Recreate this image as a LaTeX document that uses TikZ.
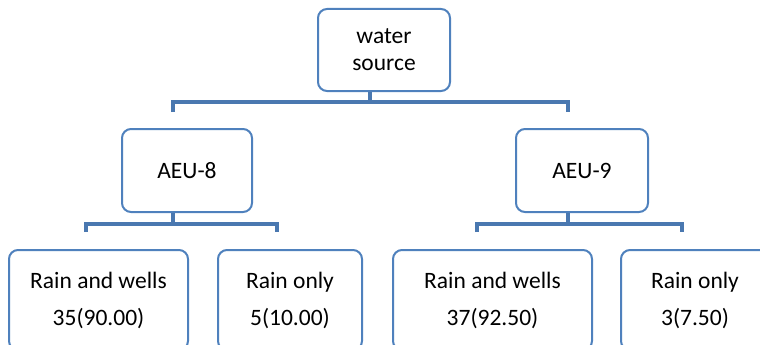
\documentclass[tikz,border=0pt]{standalone}
\usepackage{fontspec}
\setmainfont{Carlito}
\usepackage{tikz}
\usetikzlibrary{positioning,calc}
\usepackage{xcolor}
\definecolor{SrcBlue}{HTML}{4F81BD}
\definecolor{BusBlue}{HTML}{4A78B0}

\begin{document}
\begin{tikzpicture}[x=1pt,y=-1pt,
    every node/.style={font=\fontsize{23.5}{27}\selectfont,align=center},
    unitbox/.style={draw=SrcBlue,line width=2pt,rounded corners=9pt,fill=white,inner sep=0pt},
    leafbox/.style={unitbox,minimum height=100pt,font=\fontsize{23.5}{37}\selectfont},
    bus/.style={draw=BusBlue,line width=4.8pt}]
    \clip (0,0) rectangle (760,345);
    \node[unitbox,minimum width=132pt,minimum height=82pt] (ws) at (384,50) {water\\source};
    \node[unitbox,minimum width=130pt,minimum height=83pt] (a8) at (187,170.5) {AEU-8};
    \node[unitbox,minimum width=132pt,minimum height=83pt] (a9) at (582,170.5) {AEU-9};
    \node[leafbox,minimum width=179pt] (rw8) at (98.5,300) {Rain and wells\\35(90.00)};
    \node[leafbox,minimum width=144pt] (ro8) at (290,300) {Rain only\\5(10.00)};
    \node[leafbox,minimum width=199pt] (rw9) at (492.5,300) {Rain and wells\\37(92.50)};
    \node[leafbox,minimum width=148pt] (ro9) at (695,300) {Rain only\\3(7.50)};
    % water source -> units
    \draw[bus] ([xshift=-14pt]ws.south) -- ++(0,12);
    \draw[bus] ([xshift=-14pt,yshift=16pt]a8.north) -- ++(0,-10) -| ([xshift=-14pt,yshift=16pt]a9.north);
    % units -> sources
    \draw[bus] ([xshift=-14pt]a8.south) -- ++(0,13);
    \draw[bus] ([xshift=-12.5pt,yshift=17pt]rw8.north) -- ++(0,-8) -| ([xshift=-13pt,yshift=17pt]ro8.north);
    \draw[bus] ([xshift=-14pt]a9.south) -- ++(0,13);
    \draw[bus] ([xshift=-15.5pt,yshift=17pt]rw9.north) -- ++(0,-8) -| ([xshift=-13pt,yshift=17pt]ro9.north);
\end{tikzpicture}
\end{document}
